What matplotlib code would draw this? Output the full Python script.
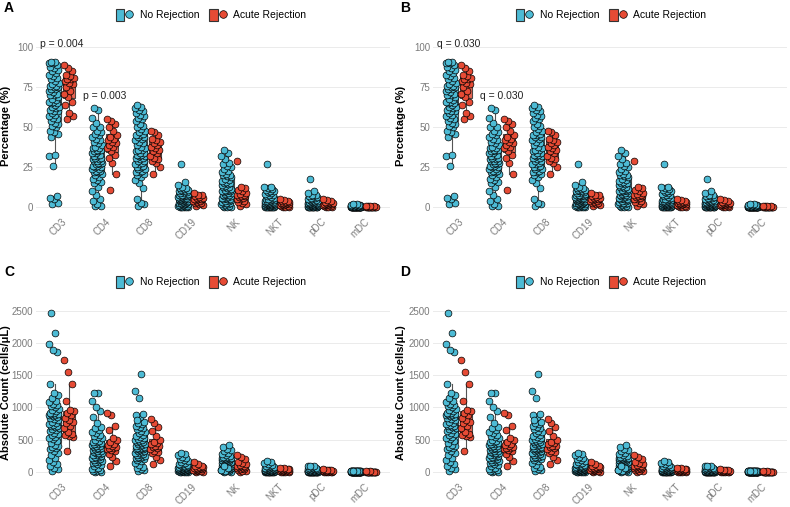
import matplotlib
matplotlib.use("Agg")
import matplotlib.pyplot as plt
import numpy as np
from matplotlib.patches import Patch
from matplotlib.lines import Line2D
from matplotlib.legend_handler import HandlerTuple

plt.rcParams['font.family'] = ['Liberation Sans', 'DejaVu Sans']

cells = ["CD3", "CD4", "CD8", "CD19", "NK", "NKT", "pDC", "mDC"]
groups = ["No Rejection", "Acute Rejection"]

# Percentage (%) - no rejection
pct_nr = {
    "CD3": [2, 3, 5, 6, 7, 26, 32, 33, 44, 46, 47, 48, 50, 51, 52, 53,
            54, 55, 56, 57, 58, 59, 60, 60, 61, 62, 63, 63, 64, 65, 65, 66,
            66, 67, 68, 69, 70, 70, 71, 72, 73, 74, 74, 75, 75, 76, 76, 77,
            78, 79, 80, 81, 82, 83, 84, 85, 86, 87, 88, 89, 90, 90, 91, 91],
    "CD4": [1, 1, 2, 4, 5, 8, 10, 13, 15, 16, 17, 18, 19, 20, 21, 22,
            22, 23, 23, 24, 24, 25, 25, 26, 26, 27, 27, 28, 28, 29, 29, 29,
            30, 30, 31, 31, 32, 32, 33, 34, 34, 35, 35, 36, 36, 37, 37, 38,
            39, 40, 41, 42, 43, 44, 45, 46, 47, 48, 50, 50, 53, 56, 61, 62],
    "CD8": [1, 2, 3, 5, 12, 15, 17, 19, 20, 21, 22, 22, 23, 24, 24, 25,
            25, 26, 27, 27, 28, 29, 29, 30, 31, 31, 32, 32, 33, 33, 34, 34,
            35, 36, 36, 37, 38, 39, 40, 41, 42, 43, 44, 44, 45, 45, 46, 47,
            48, 49, 50, 51, 52, 54, 55, 56, 57, 58, 59, 60, 61, 62, 63, 64],
    "CD19": [0, 0, 0, 0, 0.5, 0.5, 1, 1, 1, 1, 1.5, 1.5, 2, 2, 2, 2,
             2.5, 2.5, 3, 3, 3, 3, 3.5, 3.5, 4, 4, 4, 4, 4.5, 4.5, 5, 5,
             5, 5, 5.5, 5.5, 6, 6, 6, 6.5, 6.5, 7, 7, 7, 7.5, 8, 8, 8,
             8.5, 9, 9, 9.5, 10, 10, 10.5, 11, 11, 11.5, 12, 12, 13, 14, 16, 27],
    "NK": [0, 0, 0.5, 1, 1, 1.5, 2, 2, 2.5, 3, 3, 3.5, 4, 4, 4.5, 5,
           5, 5.5, 6, 6, 6.5, 7, 7, 7.5, 8, 8, 8.5, 9, 9, 9.5, 10, 10,
           10.5, 11, 11, 11.5, 12, 12.5, 13, 13.5, 14, 14.5, 15, 15, 16, 16.5, 17, 18,
           19, 19.5, 20, 20.5, 21, 22, 23, 24, 25, 26, 27, 28, 30, 32, 34, 36],
    "NKT": [0, 0, 0, 0, 0, 0.3, 0.3, 0.5, 0.5, 0.5, 0.8, 0.8, 1, 1, 1, 1,
            1.2, 1.2, 1.5, 1.5, 1.5, 1.8, 1.8, 2, 2, 2, 2, 2.2, 2.2, 2.5, 2.5, 2.5,
            2.8, 2.8, 3, 3, 3, 3.2, 3.5, 3.5, 3.8, 4, 4, 4.3, 4.5, 5, 5, 5.5,
            6, 6.5, 7, 7.5, 8, 8.5, 9, 9.5, 10, 10.5, 11, 11.5, 12, 12.5, 13, 27],
    "pDC": [0, 0, 0, 0, 0, 0.2, 0.2, 0.3, 0.3, 0.4, 0.5, 0.5, 0.6, 0.7, 0.8, 0.8,
            0.9, 1, 1, 1, 1.1, 1.2, 1.2, 1.3, 1.4, 1.5, 1.5, 1.6, 1.7, 1.8, 1.8, 1.9,
            2, 2, 2.1, 2.2, 2.3, 2.4, 2.5, 2.6, 2.7, 2.8, 3, 3, 3.2, 3.4, 3.6, 3.8,
            4, 4.2, 4.5, 4.8, 5, 5.3, 5.6, 6, 6.4, 6.8, 7, 7.5, 8, 9, 10.5, 17.5],
    "mDC": [0, 0, 0, 0, 0, 0, 0.05, 0.05, 0.1, 0.1, 0.1, 0.1, 0.15, 0.15, 0.2, 0.2,
            0.2, 0.2, 0.25, 0.25, 0.3, 0.3, 0.3, 0.3, 0.35, 0.35, 0.4, 0.4, 0.4, 0.4, 0.45, 0.45,
            0.5, 0.5, 0.5, 0.5, 0.55, 0.55, 0.6, 0.6, 0.6, 0.65, 0.65, 0.7, 0.7, 0.75, 0.8, 0.8,
            0.85, 0.9, 0.9, 0.95, 1, 1, 1.05, 1.1, 1.2, 1.3, 1.4, 1.5, 1.6, 1.7, 1.8, 2],
}

# Percentage (%) - acute rejection
pct_ar = {
    "CD3": [55, 57, 59, 64, 66, 69, 71, 73, 75, 77, 78, 79, 80, 80, 81, 82, 83, 85, 87, 89],
    "CD4": [11, 21, 28, 31, 33, 35, 37, 38, 39, 40, 41, 42, 43, 44, 45, 48, 50, 52, 54, 55],
    "CD8": [21, 25, 28, 29, 30, 31, 32, 34, 35, 36, 37, 38, 39, 40, 41, 42, 43, 45, 47, 48],
    "CD19": [1, 1.5, 2, 3, 3, 3.5, 4, 4, 4.5, 5, 5, 5.5, 5.5, 6, 6, 6.5, 7, 7.5, 8, 9],
    "NK": [1, 2, 3, 3.5, 4, 5, 5.5, 6, 6.5, 7, 7, 7.5, 8, 8.5, 9, 10, 11, 12, 13, 29],
    "NKT": [0, 0.3, 0.5, 0.8, 1, 1.2, 1.5, 1.8, 2, 2, 2.2, 2.5, 2.8, 3, 3.2, 3.5, 3.8, 4.2, 4.6, 5],
    "pDC": [0, 0.3, 0.5, 0.8, 1, 1.2, 1.4, 1.6, 1.8, 2, 2, 2.2, 2.5, 2.8, 3, 3.3, 3.6, 4, 4.5, 5.2],
    "mDC": [0, 0, 0.05, 0.1, 0.1, 0.15, 0.2, 0.2, 0.25, 0.3, 0.3, 0.35, 0.4, 0.4, 0.45, 0.5, 0.6, 0.7, 0.8, 1],
}

# Absolute count (cells/uL) - no rejection
abs_nr = {
    "CD3": [20, 40, 60, 90, 120, 150, 180, 220, 260, 300, 330, 350, 370, 385, 400, 420,
            450, 480, 510, 530, 550, 570, 590, 610, 630, 650, 670, 690, 700, 710, 720, 730,
            740, 760, 780, 800, 820, 840, 860, 870, 880, 890, 900, 905, 910, 920, 940, 960,
            980, 1000, 1020, 1040, 1060, 1080, 1100, 1150, 1200, 1230, 1360, 1860, 1890, 1980, 2160, 2460],
    "CD4": [0, 0, 10, 20, 30, 40, 50, 70, 90, 110, 130, 140, 150, 160, 170, 180,
            190, 200, 210, 220, 230, 240, 250, 260, 270, 280, 290, 300, 300, 310, 320, 330,
            340, 350, 360, 370, 380, 390, 400, 410, 420, 430, 440, 450, 460, 470, 480, 500,
            520, 540, 560, 580, 600, 620, 650, 680, 700, 760, 850, 940, 1010, 1100, 1220, 1230],
    "CD8": [10, 30, 50, 60, 80, 110, 140, 170, 190, 200, 210, 220, 230, 240, 250, 260,
            270, 280, 290, 300, 310, 320, 330, 340, 350, 355, 360, 365, 370, 380, 390, 400,
            410, 420, 430, 440, 450, 460, 470, 480, 490, 500, 510, 520, 540, 560, 580, 600,
            620, 640, 660, 680, 700, 720, 740, 760, 780, 850, 890, 900, 1150, 1250, 1520, 800],
    "CD19": [0, 0, 5, 5, 8, 10, 12, 15, 15, 18, 20, 20, 22, 25, 25, 28,
             30, 30, 32, 35, 35, 38, 40, 40, 42, 45, 45, 48, 50, 50, 52, 55,
             55, 58, 60, 60, 62, 65, 65, 68, 70, 72, 75, 78, 80, 82, 85, 90,
             95, 100, 105, 110, 120, 130, 140, 150, 165, 180, 200, 220, 240, 260, 280, 300],
    "NK": [0, 5, 10, 15, 20, 25, 30, 35, 40, 45, 50, 55, 60, 65, 70, 75,
           80, 85, 90, 92, 95, 98, 100, 100, 105, 110, 115, 120, 125, 130, 135, 140,
           145, 150, 155, 160, 165, 170, 175, 180, 185, 190, 195, 200, 205, 210, 215, 220,
           225, 230, 240, 250, 260, 280, 300, 320, 340, 360, 390, 420, 10, 30, 60, 90],
    "NKT": [0, 0, 0, 2, 3, 4, 5, 5, 6, 7, 8, 9, 10, 10, 11, 12,
            13, 14, 15, 15, 16, 17, 18, 19, 20, 20, 21, 22, 23, 24, 25, 25,
            26, 27, 28, 30, 31, 32, 34, 35, 36, 38, 40, 42, 44, 46, 48, 50,
            52, 55, 58, 60, 65, 70, 75, 80, 85, 90, 100, 110, 120, 140, 160, 170],
    "pDC": [0, 0, 0, 1, 1, 2, 2, 3, 3, 4, 4, 5, 5, 6, 6, 7,
            7, 8, 8, 9, 9, 10, 10, 11, 11, 12, 12, 13, 13, 14, 14, 15,
            15, 16, 16, 17, 18, 19, 20, 21, 22, 23, 24, 25, 26, 28, 30, 32,
            34, 36, 38, 40, 42, 45, 48, 50, 55, 60, 65, 70, 80, 90, 95, 100],
    "mDC": [0, 0, 0, 0, 1, 1, 1, 1, 1, 2, 2, 2, 2, 2, 3, 3,
            3, 3, 3, 4, 4, 4, 4, 4, 5, 5, 5, 5, 5, 6, 6, 6,
            6, 7, 7, 7, 7, 8, 8, 8, 9, 9, 9, 10, 10, 10, 11, 11,
            12, 12, 13, 13, 14, 14, 15, 15, 16, 16, 17, 18, 18, 19, 20, 20],
}

# Absolute count (cells/uL) - acute rejection
abs_ar = {
    "CD3": [320, 540, 560, 570, 590, 620, 680, 720, 760, 780, 800, 840, 880, 910, 940, 960, 1100, 1360, 1550, 1730],
    "CD4": [100, 170, 230, 280, 320, 340, 360, 370, 380, 390, 400, 420, 440, 460, 490, 520, 650, 720, 890, 910],
    "CD8": [120, 190, 240, 290, 310, 330, 350, 370, 390, 400, 410, 430, 450, 470, 490, 560, 640, 700, 760, 820],
    "CD19": [0, 5, 10, 15, 20, 25, 30, 40, 45, 50, 55, 60, 65, 70, 75, 80, 90, 100, 120, 150],
    "NK": [0, 10, 20, 30, 40, 50, 60, 70, 80, 85, 90, 95, 100, 110, 120, 140, 160, 200, 240, 270],
    "NKT": [0, 2, 5, 8, 10, 12, 15, 18, 20, 22, 25, 28, 30, 35, 40, 45, 50, 55, 62, 70],
    "pDC": [0, 2, 4, 6, 8, 10, 11, 12, 13, 14, 15, 16, 18, 20, 22, 25, 28, 32, 36, 40],
    "mDC": [0, 0, 1, 1, 2, 2, 3, 3, 3, 4, 4, 5, 5, 5, 6, 6, 7, 8, 9, 10],
}

pct_ticks = [0, 25, 50, 75, 100]
abs_ticks = [0, 500, 1000, 1500, 2000, 2500]

# annotations (label, category index, y)
notes_A = [("p = 0.004", 0, 102), ("p = 0.003", 1, 69.5)]
notes_B = [("q = 0.030", 0, 102), ("q = 0.030", 1, 69.5)]

col_nr = "#4DBBD5"
col_ar = "#E64B35"
edge = "#333333"
tick_col = "#7a7a7a"

W = 790.0
H = 507.0
AX_W = 354.0


def jitter(n, width):
    # deterministic spread (golden ratio sequence)
    k = np.arange(n)
    return ((k * 0.618034 + 0.31) % 1.0 - 0.5) * width


def panel(ax, nr, ar, ticks, ylim, ylabel, notes, lab_x):
    for i, c in enumerate(cells):
        x0 = i + 1
        for vals, off, jo, col in [(nr[c], -0.16, -0.03, col_nr), (ar[c], 0.16, 0.0, col_ar)]:
            v = np.array(vals, dtype=float)
            bp = ax.boxplot(v, positions=[x0 + off], widths=0.28, patch_artist=True,
                            showfliers=False, showcaps=False, whis=1.5,
                            medianprops=dict(color=edge, lw=0.9),
                            whiskerprops=dict(color="#555555", lw=0.8),
                            boxprops=dict(edgecolor=edge, lw=0.8),
                            manage_ticks=False, zorder=2)
            for b in bp['boxes']:
                b.set_facecolor(col)
                b.set_alpha(0.85)
                b.set_edgecolor(edge)
            ax.scatter(x0 + off + jo + jitter(len(v), 0.24), v, s=24, c=col,
                       edgecolors="black", linewidths=0.5, zorder=3)
    ax.set_xlim(0.4, 8.6)
    ax.set_ylim(*ylim)
    ax.set_xticks(range(1, 9))
    ax.set_xticklabels(cells, rotation=45, ha="right", va="top",
                       rotation_mode="anchor", color=tick_col, fontsize=7)
    ax.set_yticks(ticks)
    ax.set_yticklabels([str(t) for t in ticks], color=tick_col, fontsize=7)
    ax.tick_params(axis="y", length=0, pad=2)
    ax.tick_params(axis="x", length=0, pad=1)
    ax.grid(axis="y", color="#ebebeb", lw=0.7, zorder=0)
    ax.set_axisbelow(True)
    for s in ax.spines.values():
        s.set_visible(False)
    ax.set_ylabel(ylabel, fontsize=8, fontweight="bold")
    ax.yaxis.set_label_coords(lab_x / AX_W, 0.5)
    for txt, ci, y in notes:
        ax.text(ci + 1, y, txt, ha="center", va="center", fontsize=7.5, color="#222222")


fig = plt.figure(figsize=(7.9, 5.07), dpi=100)

rect_top = (0.5753, 0.3535)
rect_bot = (0.0530, 0.3445)

axA = fig.add_axes([36 / W, rect_top[0], AX_W / W, rect_top[1]])
axB = fig.add_axes([433 / W, rect_top[0], AX_W / W, rect_top[1]])
axC = fig.add_axes([36 / W, rect_bot[0], AX_W / W, rect_bot[1]])
axD = fig.add_axes([433 / W, rect_bot[0], AX_W / W, rect_bot[1]])

panel(axA, pct_nr, pct_ar, pct_ticks, (-5, 107), "Percentage (%)", notes_A, 11 - 36)
panel(axB, pct_nr, pct_ar, pct_ticks, (-5, 107), "Percentage (%)", notes_B, 406 - 433)
panel(axC, abs_nr, abs_ar, abs_ticks, (-125, 2580), "Absolute Count (cells/\u03bcL)", [], 11 - 36)
panel(axD, abs_nr, abs_ar, abs_ticks, (-125, 2580), "Absolute Count (cells/\u03bcL)", [], 406 - 433)

handles = [
    (Patch(facecolor=col_nr, edgecolor=edge, lw=0.8),
     Line2D([], [], marker="o", ls="", mfc=col_nr, mec="black", mew=0.5, ms=5.5)),
    (Patch(facecolor=col_ar, edgecolor=edge, lw=0.8),
     Line2D([], [], marker="o", ls="", mfc=col_ar, mec="black", mew=0.5, ms=5.5)),
]
for ax, (cx, cy) in [(axA, (211, 15)), (axB, (611, 15)), (axC, (211, 282)), (axD, (611, 282))]:
    ax.legend(handles, groups, handler_map={tuple: HandlerTuple(ndivide=None, pad=0)},
              loc="center", bbox_to_anchor=(cx / W, 1 - cy / H),
              bbox_transform=fig.transFigure, ncol=2, frameon=False,
              fontsize=7.5, handlelength=1.7, handleheight=1.5,
              columnspacing=1.0, handletextpad=0.6)

for lab, (px, py) in [("A", (4, 8)), ("B", (400, 8)), ("C", (4, 272)), ("D", (400, 272))]:
    fig.text(px / W, 1 - py / H, lab, fontsize=10, fontweight="bold", ha="left", va="center")

fig.savefig("out.png", dpi=100)
